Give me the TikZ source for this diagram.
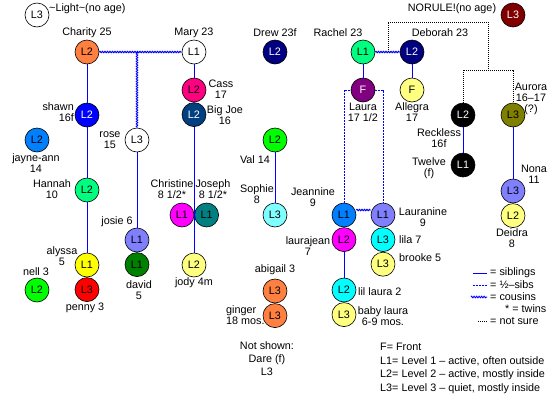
\documentclass[tikz,border=0pt]{standalone}
\usepackage{fontspec}
\setmainfont{Liberation Sans}
\usepackage{tikz}
\usetikzlibrary{positioning,decorations.pathmorphing}

\definecolor{lvorange}{RGB}{255,128,64}
\definecolor{lvnavy}{RGB}{0,0,128}
\definecolor{lvspring}{RGB}{0,255,128}
\definecolor{lvmaroon}{RGB}{128,0,0}
\definecolor{lvpink}{RGB}{255,0,128}
\definecolor{lvsteel}{RGB}{0,64,128}
\definecolor{lvblue}{RGB}{0,0,255}
\definecolor{lvsky}{RGB}{0,128,255}
\definecolor{lvlime}{RGB}{0,255,0}
\definecolor{lvaqua}{RGB}{128,255,255}
\definecolor{lvmagenta}{RGB}{255,0,255}
\definecolor{lvteal}{RGB}{0,128,128}
\definecolor{lvlilac}{RGB}{128,128,255}
\definecolor{lvyellow}{RGB}{255,255,0}
\definecolor{lvgreen}{RGB}{0,128,0}
\definecolor{lvcream}{RGB}{255,255,128}
\definecolor{lvred}{RGB}{255,0,0}
\definecolor{lvpurple}{RGB}{128,0,128}
\definecolor{lvolive}{RGB}{128,128,0}
\definecolor{lvcyan}{RGB}{0,255,255}

\begin{document}
\begin{tikzpicture}[
		x=1pt, y=-1pt
		,every node/.append style={font=\fontsize{10.8}{11.2}\selectfont}
		,lv/.style={circle, draw=black, line width=.6pt, fill=#1, minimum size=24pt, inner sep=0pt}
		,lvd/.style={lv=#1, text=white}
		,txt/.style={align=center, inner sep=0pt}
		,sib/.style={draw=blue, line width=.9pt}
		,half/.style={draw=blue, line width=.9pt, dash pattern=on 2pt off 1pt}
		,cous/.style={draw=blue, line width=1pt, decorate, decoration={zigzag, segment length=2.5pt, amplitude=.7pt}}
		,unsure/.style={draw=black, line width=.8pt, dash pattern=on 1pt off 1pt}
	]
		\useasboundingbox (0,0) rectangle (550,400);

		% top row
		\node [lv=white] (light) at (37,15) {L3};
		\node [txt, anchor=west] (lighttxt) at (49,9) {\textasciitilde Light\textasciitilde(no age)};
		\node [lvd=lvmaroon] (norule) at (513,15) {L3};
		\node [txt] (noruletxt) at (452,9) {NORULE!(no age)};

		\node [lv=lvorange] (charity) at (87,52) {L2};
		\node [txt] (charitytxt) at (87,33) {Charity 25};
		\node [lv=white] (mary) at (194,52) {L1};
		\node [txt] (marytxt) at (194,33) {Mary 23};
		\node [lvd=lvnavy] (drew) at (275,52) {L2};
		\node [txt] (drewtxt) at (275,33) {Drew 23f};
		\node [lv=lvspring] (rachel) at (363,52) {L1};
		\node [txt] (racheltxt) at (338,33) {Rachel 23};
		\node [lvd=lvnavy] (deborah) at (412,52) {L2};
		\node [txt] (deborahtxt) at (440,33) {Deborah 23};

		% Charity and Mary
		\node [lvd=lvblue] (shawn) at (87,115) {L2};
		\node [txt, align=right, anchor=east] (shawntxt) at (74,112) {shawn\\16f};
		\node [lv=lvsky] (jayneann) at (37,140) {L2};
		\node [txt] (jayneanntxt) at (36,163) {jayne-ann\\14};
		\node [lv=lvspring] (hannah) at (87,190) {L2};
		\node [txt] (hannahtxt) at (52,189) {Hannah\\10};
		\node [lv=lvyellow] (alyssa) at (87,265) {L1};
		\node [txt] (alyssatxt) at (62,256) {alyssa\\5};
		\node [lv=lvred, below=0pt of alyssa] (penny) {L3};
		\node [txt] (pennytxt) at (85,308) {penny 3};
		\node [lv=lvlime] (nell) at (37,290) {L2};
		\node [txt] (nelltxt) at (36,272) {nell 3};

		\node [lv=white] (rose) at (137,140) {L3};
		\node [txt] (rosetxt) at (110,140) {rose\\15};
		\node [lv=lvlilac] (josie) at (137,240) {L1};
		\node [txt] (josietxt) at (117,222) {josie 6};
		\node [lv=lvgreen, below=0pt of josie] (david) {L1};
		\node [txt] (davidtxt) at (139,290) {david\\5};

		\node [lv=lvpink] (cass) at (194,90) {L2};
		\node [txt] (casstxt) at (221,89) {Cass\\17};
		\node [lvd=lvsteel, below=0pt of cass] (bigjoe) {L2};
		\node [txt] (bigjoetxt) at (225,115) {Big Joe\\16};
		\node [lv=lvmagenta] (christine) at (182,215) {L1};
		\node [txt] (christinetxt) at (172,189) {Christine\\8 1/2*};
		\node [lv=lvteal, right=0pt of christine] (joseph) {L1};
		\node [txt] (josephtxt) at (213,189) {Joseph\\8 1/2*};
		\node [lv=lvcream] (jody) at (194,265) {L2};
		\node [txt] (jodytxt) at (194,283) {jody 4m};

		% middle
		\node [lv=lvlime] (val) at (275,140) {L2};
		\node [txt] (valtxt) at (255,160) {Val 14};
		\node [lv=lvaqua] (sophie) at (275,215) {L3};
		\node [txt] (sophietxt) at (257,194) {Sophie\\8};
		\node [lv=lvorange] (abigail) at (275,291) {L3};
		\node [txt] (abigailtxt) at (275,270) {abigail 3};
		\node [lv=lvorange, below=0pt of abigail] (ginger) {L3};
		\node [txt, align=left, anchor=west] (gingertxt) at (226,315) {ginger\\18 mos.};
		\node [txt, font=\fontsize{10.8}{13}\selectfont] (notshown) at (267,359) {Not shown:\\Dare (f)\\L3};

		% Rachel and Deborah
		\node [lvd=lvpurple] (laura) at (363,90) {F};
		\node [txt] (lauratxt) at (363,112) {Laura\\17 1/2};
		\node [lv=lvcream] (allegra) at (412,90) {F};
		\node [txt] (allegratxt) at (412,112) {Allegra\\17};
		\node [lv=lvsky] (jeannine) at (344,215) {L1};
		\node [txt] (jeanninetxt) at (313,197) {Jeannine\\9};
		\node [lv=lvmagenta, below=0pt of jeannine] (laurajean) {L2};
		\node [txt] (laurajeantxt) at (308,246) {laurajean\\7};
		\node [lv=lvcyan] (lillaura) at (344,290) {L2};
		\node [txt, anchor=west] (lillauratxt) at (358,292) {lil laura 2};
		\node [lv=lvcream, below=0pt of lillaura] (babylaura) {L3};
		\node [txt] (babylauratxt) at (383,316) {baby laura\\6-9 mos.};
		\node [lv=lvlilac] (lauranine) at (383,215) {L1};
		\node [txt] (lauraninetxt) at (423,217) {Lauranine\\9};
		\node [lv=lvcyan, below=0pt of lauranine] (lila) {L3};
		\node [txt, anchor=west] (lilatxt) at (399,240) {lila 7};
		\node [lv=lvcream, below=0pt of lila] (brooke) {L3};
		\node [txt, anchor=west] (brooketxt) at (399,258) {brooke 5};

		% right side
		\node [lvd=black] (reckless) at (463,115) {L2};
		\node [txt] (recklesstxt) at (439,138) {Reckless\\16f};
		\node [lvd=black] (twelve) at (463,165) {L1};
		\node [txt] (twelvetxt) at (429,168) {Twelve\\(f)};
		\node [lv=lvolive] (aurora) at (513,115) {L3};
		\node [txt] (auroratxt) at (531,99) {Aurora\\16–17\\(?)};
		\node [lv=lvlilac] (nona) at (513,191) {L3};
		\node [txt] (nonatxt) at (534,174) {Nona\\11};
		\node [lv=lvcream, below=0pt of nona] (deidra) {L2};
		\node [txt] (deidratxt) at (512,238) {Deidra\\8};

		% siblings
		\draw [sib] (charity) -- (shawn) -- (hannah) -- (alyssa) -- (penny);
		\draw [sib] (rose) -- (josie) -- (david);
		\draw [sib] (mary) -- (cass) -- (bigjoe) -- (jody);
		\draw [sib] (val) -- (sophie);
		\draw [sib] (abigail) -- (ginger);
		\draw [sib] (rachel) -- (laura);
		\draw [sib] (deborah) -- (allegra);
		\draw [sib] (reckless) -- (twelve);
		\draw [sib] (aurora) -- (nona) -- (deidra);
		\draw [sib] (jeannine) -- (laurajean) -- (lillaura) -- (babylaura);
		\draw [sib] (lauranine) -- (lila) -- (brooke);

		% half-sibs and cousins
		\draw [half] (jeannine) |- (laura) -| (lauranine);
		\coordinate (rosetop) at (rose |- charity);
		\draw [cous] (charity) -- (mary);
		\draw [cous] (rosetop) -- (rose);
		\draw [cous] (rachel) -- (deborah);
		\draw [cous] ([yshift=5pt]jeannine.east) -- ([yshift=5pt]lauranine.west);

		% not sure
		\coordinate (rdmid) at (388,52);
		\coordinate (nrtop) at (488,22);
		\coordinate (nrbot) at (488,70);
		\draw [unsure] (rdmid) |- (nrtop) -- (nrbot);
		\draw [unsure] (reckless) |- (nrbot) -| (aurora);

		% legend
		\node [txt, anchor=west] (lgsib) at (490,273) {= siblings};
		\draw [sib] ([xshift=-17pt]lgsib.west) -- ([xshift=-3pt]lgsib.west);
		\node [txt, anchor=west] (lghalf) at (490,285) {= ½–sibs};
		\draw [half] ([xshift=-17pt]lghalf.west) -- ([xshift=-3pt]lghalf.west);
		\node [txt, anchor=west] (lgcous) at (490,297) {= cousins};
		\draw [cous] ([xshift=-19pt]lgcous.west) -- ([xshift=-3pt]lgcous.west);
		\node [txt, anchor=west] (lgtwin) at (505,309) {* = twins};
		\node [txt, anchor=west] (lgunsure) at (490,321) {= not sure};
		\draw [unsure] ([xshift=-12pt]lgunsure.west) -- ([xshift=-3pt]lgunsure.west);

		\node [txt, anchor=west] (keyf) at (380,347) {F= Front};
		\node [txt, anchor=west] (keyl1) at (380,361) {L1= Level 1 – active, often outside};
		\node [txt, anchor=west] (keyl2) at (380,375) {L2= Level 2 – active, mostly inside};
		\node [txt, anchor=west] (keyl3) at (380,389) {L3= Level 3 – quiet, mostly inside};
	\end{tikzpicture}
\end{document}
